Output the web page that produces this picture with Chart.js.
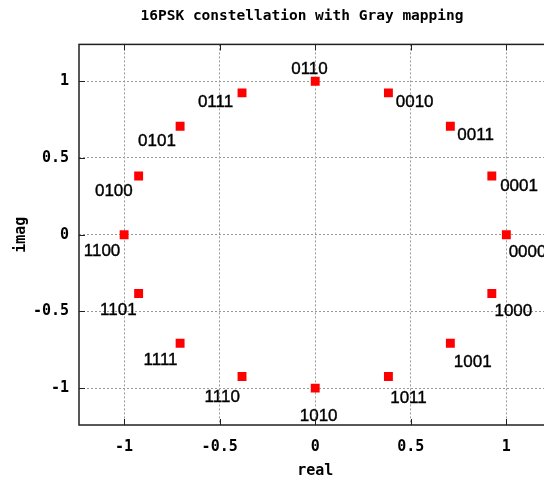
<!DOCTYPE html>
<html>
<head>
<meta charset="utf-8">
<script src="https://cdn.jsdelivr.net/npm/chart.js@4"></script>
<style>
  html, body { margin: 0; padding: 0; background: #ffffff; overflow: hidden; }
  #wrap { width: 544px; height: 481px; overflow: hidden; }
</style>
</head>
<body>
<div id="wrap"><canvas id="pskChart" width="604" height="481"></canvas></div>
<script>
// 16PSK points (real / imag parts)
const realVals = [1, 0.924, 0.707, 0.383, 0, -0.383, -0.707, -0.924, -1, -0.924, -0.707, -0.383, 0, 0.383, 0.707, 0.924];
const imagVals = [0, 0.383, 0.707, 0.924, 1, 0.924, 0.707, 0.383, 0, -0.383, -0.707, -0.924, -1, -0.924, -0.707, -0.383];
const symbolLabels = ['0000', '0001', '0011', '0010', '0110', '0111', '0101', '0100',
                      '1100', '1101', '1111', '1110', '1010', '1011', '1001', '1000'];
const xTicks = [-1, -0.5, 0, 0.5, 1];
const yTicks = [-1, -0.5, 0, 0.5, 1];

const monoFont = "'DejaVu Sans Mono', monospace";
const xMin = -1.236;

// where each label's ink centre sits relative to its point, in px (like gnuplot "offset")
const labelNudge = {
    '0000': [21, 16.5], '0001': [27, 9],    '0011': [25, 8],    '0010': [26, 8.5],
    '0110': [-6, -13.7], '0111': [-26.7, 8.2], '0101': [-23.4, 13.5], '0100': [-25, 14],
    '1100': [-21.8, 15], '1101': [-20, 15.5], '1111': [-19.3, 16], '1110': [-19.5, 19],
    '1010': [3.7, 26.4], '1011': [20.3, 20], '1001': [22.7, 17.7], '1000': [21.8, 16.4]
};

// frame, inward tick marks, x label and the bit labels, gnuplot style
const gnuplotExtras = {
    id: 'gnuplotExtras',
    afterDatasetsDraw(chart) {
        const ctx = chart.ctx;
        const area = chart.chartArea;
        const xs = chart.scales.x;
        const ys = chart.scales.y;
        const tickLen = 6;

        ctx.save();
        ctx.font = "17px 'Liberation Sans', Arial, sans-serif";
        ctx.fillStyle = '#000000';
        ctx.strokeStyle = '#000000';
        ctx.lineWidth = 0.4;
        ctx.textAlign = 'left';
        ctx.textBaseline = 'alphabetic';
        const pts = chart.getDatasetMeta(0).data;
        pts.forEach(function(pt, i) {
            const txt = symbolLabels[i];
            const nudge = labelNudge[txt] || [0, 0];
            const m = ctx.measureText(txt);
            const tx = pt.x + nudge[0] - (m.actualBoundingBoxRight - m.actualBoundingBoxLeft) / 2;
            const ty = pt.y + nudge[1] - (m.actualBoundingBoxDescent - m.actualBoundingBoxAscent) / 2;
            ctx.fillText(txt, tx, ty);
            ctx.strokeText(txt, tx, ty);
        });

        // x axis label, centred on the symmetric plot range
        ctx.font = "bold 15px " + monoFont;
        ctx.textAlign = 'center';
        ctx.textBaseline = 'middle';
        const midX = (xs.getPixelForValue(xMin) + xs.getPixelForValue(-xMin)) / 2;
        ctx.fillText('real', midX, 471);

        // frame
        ctx.strokeStyle = '#202020';
        ctx.lineWidth = 1.5;
        ctx.setLineDash([]);
        ctx.strokeRect(area.left, area.top, area.right - area.left, area.bottom - area.top);

        // inward ticks
        ctx.lineWidth = 1;
        ctx.beginPath();
        xTicks.forEach(function(v) {
            const px = Math.round(xs.getPixelForValue(v)) + 0.5;
            ctx.moveTo(px, area.bottom);
            ctx.lineTo(px, area.bottom - tickLen);
            ctx.moveTo(px, area.top);
            ctx.lineTo(px, area.top + tickLen);
        });
        yTicks.forEach(function(v) {
            const py = Math.round(ys.getPixelForValue(v)) + 0.5;
            ctx.moveTo(area.left, py);
            ctx.lineTo(area.left + tickLen, py);
            ctx.moveTo(area.right, py);
            ctx.lineTo(area.right - tickLen, py);
        });
        ctx.stroke();
        ctx.restore();
    }
};

document.addEventListener("DOMContentLoaded", function() {
    const ctx = document.getElementById('pskChart').getContext('2d');

    const points = realVals.map(function(x, i) {
        return { x: x, y: imagVals[i] };
    });

    const gridStyle = {
        color: '#9a9a9a',
        lineWidth: 1,
        drawTicks: false
    };

    new Chart(ctx, {
        type: 'scatter',
        data: {
            datasets: [{
                label: 'constellation',
                data: points,
                pointStyle: 'rect',
                pointRadius: 6.3,
                pointHoverRadius: 6.3,
                pointBorderWidth: 0,
                backgroundColor: '#ff0000',
                borderColor: '#ff0000'
            }]
        },
        options: {
            responsive: false,
            animation: false,
            events: [],
            layout: { padding: 0 },
            scales: {
                x: {
                    type: 'linear',
                    min: xMin,
                    max: 1.478,
                    afterBuildTicks: function(scale) {
                        scale.ticks = xTicks.map(function(v) { return { value: v }; });
                    },
                    afterFit: function(scale) { scale.height = 56; },
                    grid: Object.assign({}, gridStyle),
                    border: { display: false, dash: [2, 2] },
                    ticks: {
                        padding: 13,
                        color: '#000000',
                        font: { family: monoFont, size: 15, weight: 'bold' },
                        maxRotation: 0,
                        autoSkip: false,
                        callback: function(v) { return String(v); }
                    },
                    title: { display: false }
                },
                y: {
                    type: 'linear',
                    min: -1.24,
                    max: 1.24,
                    afterBuildTicks: function(scale) {
                        scale.ticks = yTicks.map(function(v) { return { value: v }; });
                    },
                    afterFit: function(scale) { scale.width = 79; },
                    grid: Object.assign({}, gridStyle),
                    border: { display: false, dash: [2, 2] },
                    ticks: {
                        padding: 10,
                        color: '#000000',
                        font: { family: monoFont, size: 15, weight: 'bold' },
                        autoSkip: false,
                        callback: function(v) { return String(v); }
                    },
                    title: {
                        display: true,
                        text: 'imag',
                        color: '#000000',
                        font: { family: monoFont, size: 15, weight: 'bold' },
                        padding: { top: 12, bottom: 0 }
                    }
                }
            },
            plugins: {
                legend: { display: false },
                tooltip: { enabled: false },
                title: {
                    display: true,
                    text: '16PSK constellation with Gray mapping',
                    color: '#000000',
                    font: { family: monoFont, size: 14.5, weight: 'bold' },
                    padding: { top: 8, bottom: 19 }
                }
            }
        },
        plugins: [gnuplotExtras]
    });
});
</script>
</body>
</html>
